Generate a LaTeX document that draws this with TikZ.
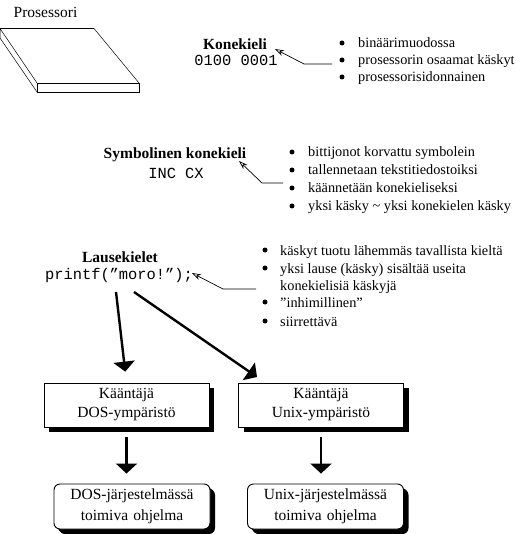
\documentclass[tikz,border=0pt]{standalone}
\usepackage{fontspec}
\setmainfont{Liberation Serif}
\setmonofont{Liberation Mono}
\usetikzlibrary{arrows.meta,shadows}

\tikzset{
  teksti/.style={inner sep=0pt,font=\fontsize{15.5}{17}\selectfont},
  otsikko/.style={teksti,font=\fontsize{15.5}{17}\selectfont\bfseries},
  koodi/.style={inner sep=0pt,font=\fontsize{15.4}{15}\selectfont\ttfamily},
  lista/.style={inner sep=0pt,anchor=base west,font=\fontsize{14.3}{16}\selectfont},
  pallo/.style={circle,fill=black,inner sep=0pt,minimum size=5pt},
  laatikko/.style={draw,line width=0.9pt,fill=white,teksti,align=center,text width=150pt,
    minimum width=165pt,minimum height=44pt,
    drop shadow={shadow xshift=5pt,shadow yshift=-5pt,fill=black,opacity=1}},
  ohjelma/.style={laatikko,rounded corners=6pt,minimum width=156pt,minimum height=45pt,
    execute at begin node=\vspace*{3pt},
    drop shadow={shadow xshift=4pt,shadow yshift=-4pt,fill=black,opacity=1}},
  viite/.style={draw,line width=0.7pt,-{Stealth[open,length=9pt,width=6pt]}},
  paksu/.style={draw,line width=2.4pt,-{Triangle[length=10pt,width=21pt]}}
}

\begin{document}
\begin{tikzpicture}[x=1pt,y=-1pt]
\useasboundingbox (0,0) rectangle (518,534);

% prosessori
\node (prosessori) [teksti] at (45.5,12) {Prosessori};
\draw [line width=0.9pt] (0,28.5) -- (94,28.5);
\draw [line width=0.5pt] (94,28.5) -- (139,83);
\draw [line width=0.5pt] (0,28.5) -- (37,83) (0,38) -- (37,92) (0,28.5) -- (0,38);
\draw [line width=0.9pt] (37,83) rectangle (139,92);

% konekieli
\node (konekieli) [otsikko] at (235,44) {Konekieli};
\node (konekoodi) [koodi] at (236,60) {0100 0001};
\foreach \yy/\rivi [count=\i] in {43/bin\"a\"arimuodossa,60/prosessorin osaamat k\"askyt,77/prosessorisidonnainen} {
  \node (konepallo\i) [pallo] at (342,\yy) {};
  \node (konerivi\i) [lista] at (358,\yy+5) {\rivi};
}
\coordinate (konealku) at (332,64);
\coordinate (konekulma) at (304,64);
\coordinate (konekarki) at (275,49);
\draw [viite] (konealku) -- (konekulma) -- (konekarki);

% symbolinen
\node (symbolinen) [otsikko] at (175,155) {Symbolinen konekieli};
\node (symbolikoodi) [koodi] at (176,173) {INC CX};
\foreach \yy/\rivi [count=\i] in {152/bittijonot korvattu symbolein,170/tallennetaan tekstitiedostoiksi,188/k\"a\"annet\"a\"an konekieliseksi,206/yksi k\"asky \textasciitilde{} yksi konekielen k\"asky} {
  \node (symbolipallo\i) [pallo] at (292,\yy) {};
  \node (symbolirivi\i) [lista] at (308,\yy+5) {\rivi};
}
\coordinate (symbolialku) at (283,183);
\coordinate (symbolikulma) at (262,183);
\coordinate (symbolikarki) at (239,161);
\draw [viite] (symbolialku) -- (symbolikulma) -- (symbolikarki);

% lausekielet
\node (lausekielet) [otsikko] at (120,257) {Lausekielet};
\node (printf) [koodi] at (119,276) {printf(\char"201D moro!\char"201D);};
\foreach \yy/\rivi [count=\i] in {250/k\"askyt tuotu l\"ahemm\"as tavallista kielt\"a,268/yksi lause (k\"asky) sis\"alt\"a\"a useita,302/\char"201D inhimillinen\char"201D,321/siirrett\"av\"a} {
  \node (lausepallo\i) [pallo] at (265,\yy) {};
  \node (lauserivi\i) [lista] at (280,\yy+5) {\rivi};
}
\node (lauserivijatko) [lista] at (280,290) {konekielisi\"a k\"askyj\"a};
\coordinate (lausealku) at (256,289);
\coordinate (lausekulma) at (223,289);
\coordinate (lausekarki) at (192,273);
\draw [viite] (lausealku) -- (lausekulma) -- (lausekarki);

% laatikot
\node (dos) [laatikko] at (126.5,405) {K\"a\"ant\"aj\"a\\[2pt]DOS-ymp\"arist\"o};
\node (unix) [laatikko] at (321,405) {K\"a\"ant\"aj\"a\\[2pt]Unix-ymp\"arist\"o};
\node (dosohjelma) [ohjelma] at (132,506.5) {DOS-j\"arjestelm\"ass\"a\\[1pt]toimiva ohjelma};
\node (unixohjelma) [ohjelma] at (325.5,506.5) {Unix-j\"arjestelm\"ass\"a\\[1pt]toimiva ohjelma};

% paksut nuolet
\coordinate (dosalku) at (116,292);
\coordinate (unixalku) at (134,292);
\coordinate (unixkarki) at (257,377);
\draw [paksu,shorten >=11pt] (dosalku) -- (dos.north);
\draw [paksu] (unixalku) -- (unixkarki);
\draw [paksu,shorten <=10pt,shorten >=10pt] (dos.south) -- (dos.south |- dosohjelma.north);
\draw [paksu,shorten <=10pt,shorten >=10pt] (unix.south) -- (unix.south |- unixohjelma.north);
\end{tikzpicture}
\end{document}
